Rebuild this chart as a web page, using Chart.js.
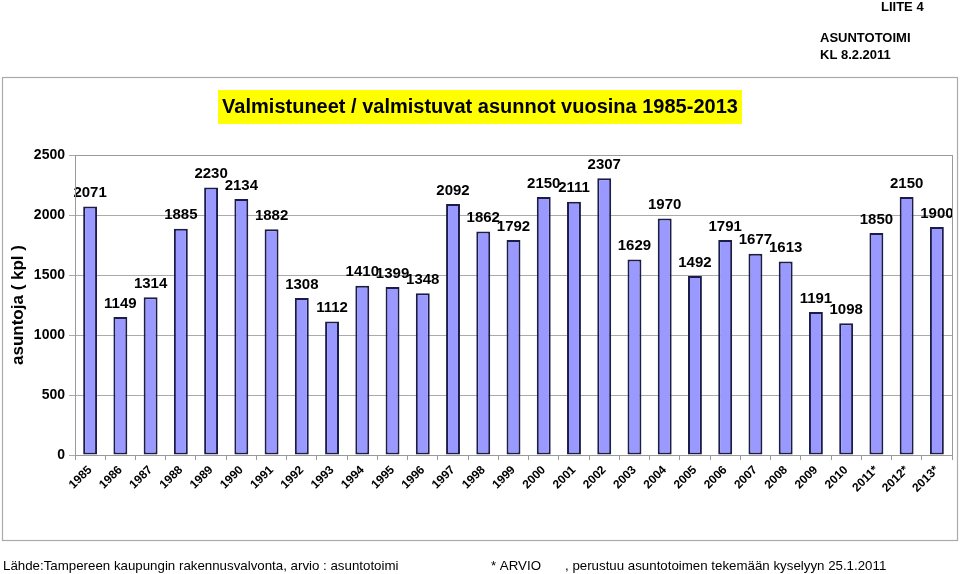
<!DOCTYPE html>
<html>
<head>
<meta charset="utf-8">
<script src="https://cdn.jsdelivr.net/npm/chart.js@4/dist/chart.umd.min.js"></script>
<style>
  html, body { margin: 0; padding: 0; background: #fff; }
  #wrap { position: relative; width: 960px; height: 574px; }
</style>
</head>
<body>
<div id="wrap"><canvas id="c" width="960" height="574"></canvas></div>
<script>
// Valmistuneet asunnot per vuosi
const years = ['1985', '1986', '1987', '1988', '1989', '1990', '1991', '1992', '1993', '1994',
  '1995', '1996', '1997', '1998', '1999', '2000', '2001', '2002', '2003', '2004',
  '2005', '2006', '2007', '2008', '2009', '2010', '2011*', '2012*', '2013*'];
const homes = [2071, 1149, 1314, 1885, 2230, 2134, 1882, 1308, 1112, 1410,
  1399, 1348, 2092, 1862, 1792, 2150, 2111, 2307, 1629, 1970,
  1492, 1791, 1677, 1613, 1191, 1098, 1850, 2150, 1900];
const yTicks = [0, 500, 1000, 1500, 2000, 2500];

const FONT = "'Liberation Sans', Arial, sans-serif";

// frame, title box, header and footer texts
const decorations = {
  id: 'decorations',
  beforeDraw(chart) {
    const ctx = chart.ctx;
    ctx.save();
    ctx.fillStyle = '#fff';
    ctx.fillRect(0, 0, chart.width, chart.height);
    ctx.strokeStyle = '#aaaaaa';
    ctx.lineWidth = 1.2;
    ctx.strokeRect(2.5, 77.5, 955, 463);

    ctx.fillStyle = '#ffff00';
    ctx.fillRect(218, 90, 524, 34);
    ctx.fillStyle = '#000';
    ctx.font = 'bold 20px ' + FONT;
    ctx.textAlign = 'center';
    ctx.textBaseline = 'middle';
    ctx.fillText('Valmistuneet / valmistuvat asunnot vuosina 1985-2013', 480, 107);

    ctx.font = 'bold 13px ' + FONT;
    ctx.textAlign = 'left';
    ctx.fillText('LIITE 4', 881, 7);
    ctx.fillText('ASUNTOTOIMI', 820, 38);
    ctx.fillText('KL 8.2.2011', 820, 55);

    ctx.font = '13.3px ' + FONT;
    ctx.fillText('Lähde:Tampereen kaupungin rakennusvalvonta, arvio : asuntotoimi', 3, 566);
    ctx.fillText('* ARVIO', 491, 566);
    ctx.fillText(', perustuu asuntotoimen tekemään kyselyyn 25.1.2011', 565, 566);
    ctx.restore();
  },
  afterDraw(chart) {
    const { ctx, chartArea: a } = chart;
    ctx.save();
    ctx.strokeStyle = '#999999';
    ctx.lineWidth = 1;
    ctx.strokeRect(a.left + 0.5, a.top + 0.5, a.right - a.left, a.bottom - a.top);
    ctx.restore();
  },
};

// value labels above each bar
const valueLabels = {
  id: 'valueLabels',
  afterDatasetsDraw(chart) {
    const ctx = chart.ctx;
    const meta = chart.getDatasetMeta(0);
    ctx.save();
    ctx.font = 'bold 15px ' + FONT;
    ctx.fillStyle = '#000';
    ctx.textAlign = 'center';
    ctx.textBaseline = 'bottom';
    meta.data.forEach((bar, i) => {
      ctx.fillText(String(homes[i]), bar.x, bar.y - 6);
    });
    ctx.restore();
  },
};

new Chart(document.getElementById('c'), {
  type: 'bar',
  data: {
    labels: years,
    datasets: [{
      label: 'asuntoja',
      data: homes,
      backgroundColor: '#9999ff',
      borderColor: '#1c1c48',
      borderWidth: 2,
      borderSkipped: false,
      categoryPercentage: 1,
      barPercentage: 0.46,
    }],
  },
  options: {
    responsive: false,
    animation: false,
    layout: { padding: { left: 0, top: 155, right: 8, bottom: 34 } },
    plugins: { legend: { display: false }, tooltip: { enabled: false } },
    scales: {
      x: {
        grid: { offset: true, drawOnChartArea: false, color: '#999999', tickLength: 5 },
        border: { color: '#999999' },
        ticks: {
          minRotation: 45, maxRotation: 45, autoSkip: false, padding: 3,
          color: '#000', font: { family: FONT, size: 12, weight: 'bold' },
        },
        afterFit(scale) { scale.height = 85; },
      },
      y: {
        min: 0, max: 2500,
        afterBuildTicks(scale) { scale.ticks = yTicks.map(v => ({ value: v })); },
        grid: { color: '#aaaaaa', tickLength: 6 },
        border: { color: '#999999' },
        ticks: {
          color: '#000', padding: 4, font: { family: FONT, size: 14, weight: 'bold' },
          callback: (v) => String(v),
        },
        title: {
          display: true, text: 'asuntoja ( kpl )', color: '#000',
          font: { family: FONT, size: 17, weight: 'bold' }, padding: { top: 8, bottom: 0 },
        },
        afterFit(scale) { scale.width = 75; },
      },
    },
  },
  plugins: [decorations, valueLabels],
});
</script>
</body>
</html>
